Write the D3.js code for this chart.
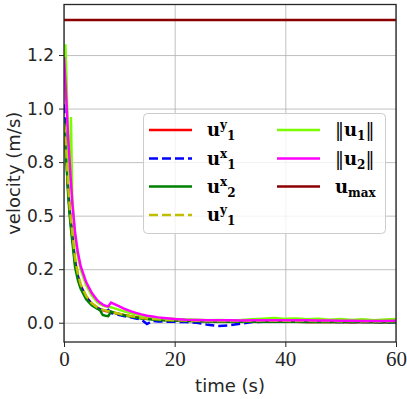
<!DOCTYPE html>
<html>
<head>
<meta charset="utf-8">
<script src="https://cdn.jsdelivr.net/npm/d3@7"></script>
<style>
  body { margin: 0; background: #fff; }
</style>
</head>
<body>
<div id="chart"></div>
<script>
// time samples (s)
const times = [0, 0.25, 0.5, 0.75, 1, 1.25, 1.5, 2, 2.5, 3, 4, 5, 6, 6.5, 7, 7.5, 8, 8.5, 9,
  10, 11, 12, 13, 14, 15, 16, 17, 18, 20, 22, 24, 26, 28, 30, 32, 34, 36, 38, 40,
  42, 44, 46, 48, 50, 52, 54, 56, 58, 60];

// velocity components / norms (m/s)
const uy1Red = [0.92, 0.85, 0.75, 0.63, 0.54, 0.47, 0.41, 0.29, 0.22, 0.175, 0.122, 0.09, 0.07, 0.064, 0.059, 0.055, 0.052, 0.05, 0.047,
  0.041, 0.035, 0.03, 0.026, 0.022, 0.019, 0.017, 0.015, 0.013, 0.011, 0.009, 0.008, 0.007, 0.006, 0.006, 0.005, 0.005, 0.005, 0.004, 0.004,
  0.004, 0.003, 0.003, 0.003, 0.003, 0.002, 0.003, 0.003, 0.002, 0.003];
const ux1Blue = [1.02, 0.88, 0.74, 0.62, 0.53, 0.46, 0.40, 0.28, 0.215, 0.17, 0.118, 0.088, 0.068, 0.062, 0.056, 0.052, 0.06, 0.045, 0.042,
  0.036, 0.03, 0.025, 0.02, 0.014, -0.006, 0.008, 0.006, 0.005, 0.004, 0.003, 0.0, -0.01, -0.015, -0.012, -0.004, 0.003, 0.004, 0.004, 0.004,
  0.005, 0.004, 0.004, 0.004, 0.003, 0.003, 0.003, 0.003, 0.002, 0.002];
const ux2Green = [0.95, 0.85, 0.72, 0.60, 0.51, 0.44, 0.38, 0.26, 0.2, 0.16, 0.11, 0.082, 0.066, 0.059, 0.036, 0.033, 0.031, 0.052, 0.047,
  0.04, 0.034, 0.029, 0.024, 0.02, 0.017, 0.015, 0.013, 0.012, 0.01, 0.008, 0.007, 0.006, 0.005, 0.005, 0.005, 0.005, 0.004, 0.004, 0.004,
  0.004, 0.003, 0.003, 0.003, 0.003, 0.003, 0.003, 0.002, 0.002, 0.002];
const uy1Yellow = [0.93, 0.86, 0.76, 0.64, 0.55, 0.48, 0.42, 0.30, 0.23, 0.18, 0.125, 0.092, 0.072, 0.066, 0.061, 0.057, 0.054, 0.051, 0.048,
  0.042, 0.036, 0.031, 0.027, 0.023, 0.02, 0.018, 0.016, 0.014, 0.012, 0.01, 0.009, 0.009, 0.008, 0.008, 0.008, 0.009, 0.01, 0.009, 0.009,
  0.008, 0.009, 0.008, 0.008, 0.007, 0.008, 0.007, 0.007, 0.007, 0.008];
const normU1 = [1.05, 1.30, 1.10, 0.80, 0.66, 0.96, 0.58, 0.40, 0.31, 0.25, 0.175, 0.128, 0.097, 0.088, 0.081, 0.077, 0.075, 0.072, 0.068,
  0.06, 0.052, 0.045, 0.039, 0.034, 0.03, 0.026, 0.023, 0.02, 0.017, 0.015, 0.014, 0.012, 0.013, 0.012, 0.013, 0.016, 0.019, 0.022, 0.018,
  0.02, 0.016, 0.019, 0.014, 0.017, 0.013, 0.016, 0.012, 0.015, 0.017];
const normU2 = [1.24, 1.12, 1.0, 0.86, 0.76, 0.66, 0.56, 0.42, 0.33, 0.265, 0.19, 0.14, 0.105, 0.094, 0.085, 0.079, 0.076, 0.094, 0.088,
  0.076, 0.064, 0.054, 0.046, 0.039, 0.033, 0.029, 0.025, 0.022, 0.017, 0.014, 0.013, 0.012, 0.011, 0.011, 0.010, 0.011, 0.012, 0.012, 0.012,
  0.011, 0.011, 0.010, 0.010, 0.009, 0.009, 0.008, 0.008, 0.008, 0.009];
const uMax = 1.414;

const xTicks = [0, 20, 40, 60];
const yTicks = [0, 0.25, 0.5, 0.75, 1.0, 1.25];
const yTickLabels = ['0.0', '0.2', '0.5', '0.8', '1.0', '1.2'];

const w = 407;
const h = 399;
const padL = 64, padR = 396, padT = 4.5, padB = 342;

const svg = d3.select('#chart')
  .append('svg')
  .attr('width', w)
  .attr('height', h);

const xScale = d3.scaleLinear().domain([0, 60]).range([padL, padR]);
const yScale = d3.scaleLinear().domain([-0.09, 1.486]).range([padB, padT]);

// grid
svg.append('g')
  .attr('transform', 'translate(0,' + padB + ')')
  .call(d3.axisBottom(xScale).tickValues(xTicks).tickSize(-(padB - padT)).tickFormat(''))
  .call(g => g.select('.domain').remove())
  .call(g => g.selectAll('line').attr('stroke', '#b0b0b0').attr('stroke-width', 0.8));
svg.append('g')
  .attr('transform', 'translate(' + padL + ',0)')
  .call(d3.axisLeft(yScale).tickValues(yTicks).tickSize(-(padR - padL)).tickFormat(''))
  .call(g => g.select('.domain').remove())
  .call(g => g.selectAll('line').attr('stroke', '#b0b0b0').attr('stroke-width', 0.8));

svg.append('clipPath').attr('id', 'clip')
  .append('rect')
  .attr('x', padL).attr('y', padT)
  .attr('width', padR - padL).attr('height', padB - padT);

const series = [
  { values: uy1Red, color: '#ff0000', dash: null },
  { values: ux1Blue, color: '#0000ff', dash: '9,4' },
  { values: ux2Green, color: '#008000', dash: null },
  { values: uy1Yellow, color: '#bfbf00', dash: '9,4' },
  { values: normU1, color: '#7cfc00', dash: null },
  { values: normU2, color: '#ff00ff', dash: null }
];

const line = d3.line()
  .x((d, i) => xScale(times[i]))
  .y(d => yScale(d));

const plot = svg.append('g').attr('clip-path', 'url(#clip)');

series.forEach(s => {
  plot.append('path')
    .datum(s.values)
    .attr('d', line)
    .attr('fill', 'none')
    .attr('stroke', s.color)
    .attr('stroke-width', 2.5)
    .attr('stroke-dasharray', s.dash);
});

plot.append('line')
  .attr('x1', xScale(0)).attr('x2', xScale(60))
  .attr('y1', yScale(uMax)).attr('y2', yScale(uMax))
  .attr('stroke', '#8b0000')
  .attr('stroke-width', 2.5);

// axes
const xAxis = svg.append('g')
  .attr('transform', 'translate(0,' + padB + ')')
  .call(d3.axisBottom(xScale).tickValues(xTicks).tickSize(5).tickPadding(4).tickFormat(d3.format('d')));
xAxis.select('.domain').remove();
xAxis.selectAll('line').attr('stroke', '#262626');
xAxis.selectAll('text')
  .attr('font-family', 'Liberation Serif, serif')
  .attr('font-size', 21)
  .attr('fill', '#262626');

const yAxis = svg.append('g')
  .attr('transform', 'translate(' + padL + ',0)')
  .call(d3.axisLeft(yScale).tickValues(yTicks).tickSize(5).tickPadding(5).tickFormat((d, i) => yTickLabels[i]));
yAxis.select('.domain').remove();
yAxis.selectAll('line').attr('stroke', '#262626');
yAxis.selectAll('text')
  .attr('font-family', 'DejaVu Sans, sans-serif')
  .attr('font-size', 17)
  .attr('fill', '#262626');

svg.append('rect')
  .attr('x', padL).attr('y', padT)
  .attr('width', padR - padL).attr('height', padB - padT)
  .attr('fill', 'none')
  .attr('stroke', '#262626')
  .attr('stroke-width', 1.3);

svg.append('text')
  .attr('x', (padL + padR) / 2)
  .attr('y', 392)
  .attr('text-anchor', 'middle')
  .attr('font-family', 'DejaVu Sans, sans-serif')
  .attr('font-size', 18)
  .attr('fill', '#262626')
  .text('time (s)');

svg.append('text')
  .attr('transform', 'translate(20,' + (padT + padB) / 2 + ') rotate(-90)')
  .attr('text-anchor', 'middle')
  .attr('font-family', 'DejaVu Sans, sans-serif')
  .attr('font-size', 18)
  .attr('fill', '#262626')
  .text('velocity (m/s)');

// legend
const legend = svg.append('g');
legend.append('rect')
  .attr('x', 143.5).attr('y', 113.5)
  .attr('width', 242).attr('height', 120)
  .attr('rx', 4)
  .attr('fill', '#fff').attr('fill-opacity', 0.8)
  .attr('stroke', '#cccccc');

const legendItems = [
  { col: 0, row: 0, color: '#ff0000', dash: null, parts: [['u', 'b'], ['y', 'sup'], ['1', 'sub']] },
  { col: 0, row: 1, color: '#0000ff', dash: '9,4', parts: [['u', 'b'], ['x', 'sup'], ['1', 'sub']] },
  { col: 0, row: 2, color: '#008000', dash: null, parts: [['u', 'b'], ['x', 'sup'], ['2', 'sub']] },
  { col: 0, row: 3, color: '#bfbf00', dash: '9,4', parts: [['u', 'b'], ['y', 'sup'], ['1', 'sub']] },
  { col: 1, row: 0, color: '#7cfc00', dash: null, parts: [['\u2016', 'n'], ['u', 'b'], ['1', 'sub'], ['\u2016', 'back']] },
  { col: 1, row: 1, color: '#ff00ff', dash: null, parts: [['\u2016', 'n'], ['u', 'b'], ['2', 'sub'], ['\u2016', 'back']] },
  { col: 1, row: 2, color: '#8b0000', dash: null, parts: [['u', 'b'], ['max', 'sub']] }
];

const colX = [149, 277];
const rowY = [130, 158.5, 186.5, 215];

legendItems.forEach(item => {
  const x0 = colX[item.col];
  const y0 = rowY[item.row];
  legend.append('line')
    .attr('x1', x0).attr('x2', x0 + 43)
    .attr('y1', y0).attr('y2', y0)
    .attr('stroke', item.color)
    .attr('stroke-width', 2.5)
    .attr('stroke-dasharray', item.dash);
  const t = legend.append('text')
    .attr('x', x0 + 58)
    .attr('y', y0 + 6)
    .attr('font-family', 'DejaVu Serif, serif')
    .attr('font-size', 18)
    .attr('fill', '#000');
  let shift = 0;
  item.parts.forEach(p => {
    const sp = t.append('tspan').text(p[0]);
    if (p[1] === 'b') {
      sp.attr('font-weight', 'bold').attr('dy', -shift);
      shift = 0;
    } else if (p[1] === 'sup') {
      sp.attr('font-weight', 'bold').attr('font-size', 12).attr('dy', -7 - shift);
      shift = -7;
    } else if (p[1] === 'sub') {
      sp.attr('font-weight', 'bold').attr('font-size', 12).attr('dy', 4 - shift);
      shift = 4;
    } else if (p[1] === 'back') {
      sp.attr('dy', -shift);
      shift = 0;
    }
  });
});
</script>
</body>
</html>
